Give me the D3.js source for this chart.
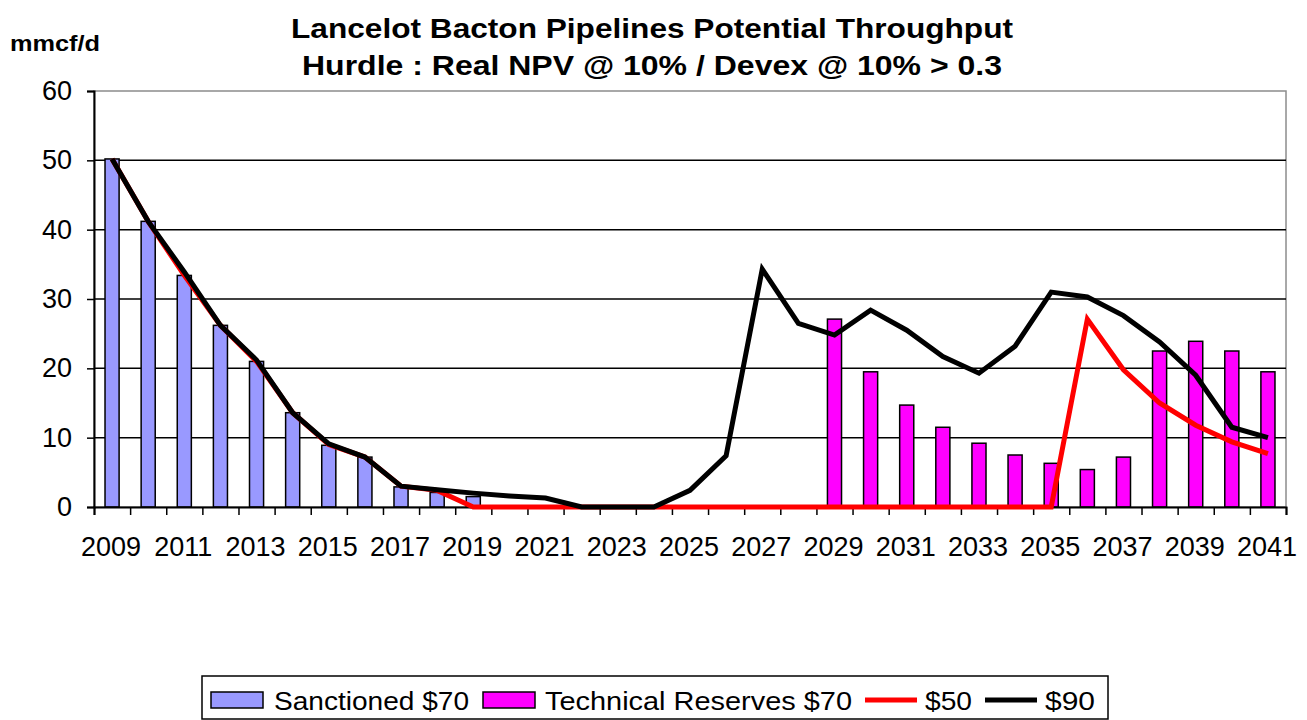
<!DOCTYPE html>
<html><head><meta charset="utf-8">
<script src="https://cdn.jsdelivr.net/npm/d3@7"></script>
<style>
body{margin:0;background:#fff;}
svg{font-family:"Liberation Sans",Arial,sans-serif;}
</style></head>
<body><svg id="c" width="1307" height="720"></svg>
<script>
const years = d3.range(2009, 2042);
const sanctioned70 = [50.2,41.2,33.4,26.2,21.0,13.6,8.9,7.2,2.9,2.1,1.5,0,0,0,0,0,0,0,0,0,0,0,0,0,0,0,0,0,0,0,0,0,0];
const technical70  = [0,0,0,0,0,0,0,0,0,0,0,0,0,0,0,0,0,0,0,0,27.1,19.5,14.7,11.5,9.2,7.5,6.3,5.4,7.2,22.5,23.9,22.5,19.5];
const price50 = [50.2,41.2,33.4,26.2,21.0,13.6,9.0,7.2,3.0,2.4,0,0,0,0,0,0,0,0,0,0,0,0,0,0,0,0,0,27.1,19.8,15.0,11.8,9.4,7.7];
const price90 = [50.2,41.2,33.9,26.2,21.2,13.6,9.1,7.2,3.0,2.5,2.0,1.6,1.3,0,0,0,2.4,7.4,34.3,26.5,24.8,28.4,25.5,21.7,19.3,23.2,31.0,30.3,27.6,23.8,19.0,11.5,10.0];
const yTicks = [0,10,20,30,40,50,60];
const titleLines = ["Lancelot Bacton Pipelines Potential Throughput","Hurdle : Real NPV @ 10% / Devex @ 10% > 0.3"];
const unitLabel = "mmcf/d";
const legendItems = [
  {name:"Sanctioned $70", type:"bar", color:"#9999ff"},
  {name:"Technical Reserves $70", type:"bar", color:"#ff00ff"},
  {name:"$50", type:"line", color:"#ff0000"},
  {name:"$90", type:"line", color:"#000000"}
];

const svg = d3.select("#c");
const L=94, R=1286, T=91, B=507;
const x = d3.scaleBand().domain(years).range([L,R]).paddingInner(0).paddingOuter(0);
const y = d3.scaleLinear().domain([0,60]).range([B,T]);
const bw = x.bandwidth()*0.39;
const cx = d => x(d)+x.bandwidth()/2;

// plot border (gray top/right)
svg.append("rect").attr("x",L).attr("y",T).attr("width",R-L).attr("height",B-T)
  .attr("fill","none").attr("stroke","#8c8c8c").attr("stroke-width",1.5);

// gridlines
svg.append("g").selectAll("line").data(yTicks.filter(v=>v>0&&v<60)).join("line")
  .attr("x1",L).attr("x2",R).attr("y1",d=>y(d)).attr("y2",d=>y(d))
  .attr("stroke","#000").attr("stroke-width",1.5);

// bars
const bars = svg.append("g");
bars.selectAll("rect.s").data(years.map((yr,i)=>({yr,v:sanctioned70[i]})).filter(d=>d.v>0)).join("rect")
  .attr("x",d=>cx(d.yr)-bw/2).attr("width",bw).attr("y",d=>y(d.v)).attr("height",d=>B-y(d.v))
  .attr("fill","#9999ff").attr("stroke","#000").attr("stroke-width",1.5);
bars.selectAll("rect.t").data(years.map((yr,i)=>({yr,v:technical70[i]})).filter(d=>d.v>0)).join("rect")
  .attr("x",d=>cx(d.yr)-bw/2).attr("width",bw).attr("y",d=>y(d.v)).attr("height",d=>B-y(d.v))
  .attr("fill","#ff00ff").attr("stroke","#000").attr("stroke-width",1.5);

// axes
const yAxis = svg.append("g").attr("transform",`translate(${L},0)`)
  .call(d3.axisLeft(y).tickValues(yTicks).tickSize(7).tickPadding(15));
yAxis.select(".domain").attr("stroke","#000").attr("stroke-width",2);
yAxis.selectAll(".tick line").attr("stroke","#000").attr("stroke-width",1.5);
yAxis.selectAll("text").attr("font-size",27).attr("fill","#000").attr("font-family","Liberation Sans, Arial, sans-serif");

const xb = d3.scaleLinear().domain([0,years.length]).range([L,R]);
const xAxis = svg.append("g").attr("transform",`translate(0,${B})`)
  .call(d3.axisBottom(xb).tickValues(d3.range(0,years.length+1)).tickSize(8).tickFormat(""));
xAxis.select(".domain").attr("stroke","#000").attr("stroke-width",2);
xAxis.selectAll(".tick line").attr("stroke","#000").attr("stroke-width",1.5);

svg.append("g").selectAll("text").data(years.filter((d,i)=>i%2===0)).join("text")
  .attr("x",d=>cx(d)-1).attr("y",B+49).attr("text-anchor","middle")
  .attr("font-size",27).attr("fill","#000").text(d=>d);

// lines
const line = d3.line().x((d,i)=>cx(years[i])).y(d=>y(d));
svg.append("path").datum(price50).attr("d",line).attr("fill","none")
  .attr("stroke","#ff0000").attr("stroke-width",5).attr("stroke-linejoin","miter");
svg.append("path").datum(price90).attr("d",line).attr("fill","none")
  .attr("stroke","#000").attr("stroke-width",5).attr("stroke-linejoin","miter");

// titles
const titleW = [722, 700];
svg.append("g").selectAll("text").data(titleLines).join("text")
  .attr("x",652).attr("y",(d,i)=>38+i*37).attr("text-anchor","middle")
  .attr("textLength",(d,i)=>titleW[i]).attr("lengthAdjust","spacingAndGlyphs")
  .attr("font-size",28).attr("font-weight","bold").attr("fill","#000").text(d=>d);
svg.append("text").attr("x",10).attr("y",51).attr("font-size",22).attr("font-weight","bold")
  .attr("textLength",90).attr("lengthAdjust","spacingAndGlyphs").text(unitLabel);

// legend
const lg = svg.append("g");
lg.append("rect").attr("x",202).attr("y",676).attr("width",906).attr("height",43)
  .attr("fill","#fff").attr("stroke","#000").attr("stroke-width",1.5);
const legX = [211,483,865,985];
const legTextX = [274,545,925,1045];
const legTextW = [195,307,47,50];
legendItems.forEach((it,i)=>{
  const gx = legX[i];
  if(it.type==="bar"){
    lg.append("rect").attr("x",gx).attr("y",692).attr("width",52).attr("height",16)
      .attr("fill",it.color).attr("stroke","#000").attr("stroke-width",1.5);
  } else {
    lg.append("line").attr("x1",gx).attr("x2",gx+52).attr("y1",700).attr("y2",700)
      .attr("stroke",it.color).attr("stroke-width",5);
  }
  lg.append("text").attr("x",legTextX[i]).attr("y",710).attr("font-size",26)
    .attr("textLength",legTextW[i]).attr("lengthAdjust","spacingAndGlyphs")
    .attr("fill","#000").text(it.name);
});
</script></body></html>
